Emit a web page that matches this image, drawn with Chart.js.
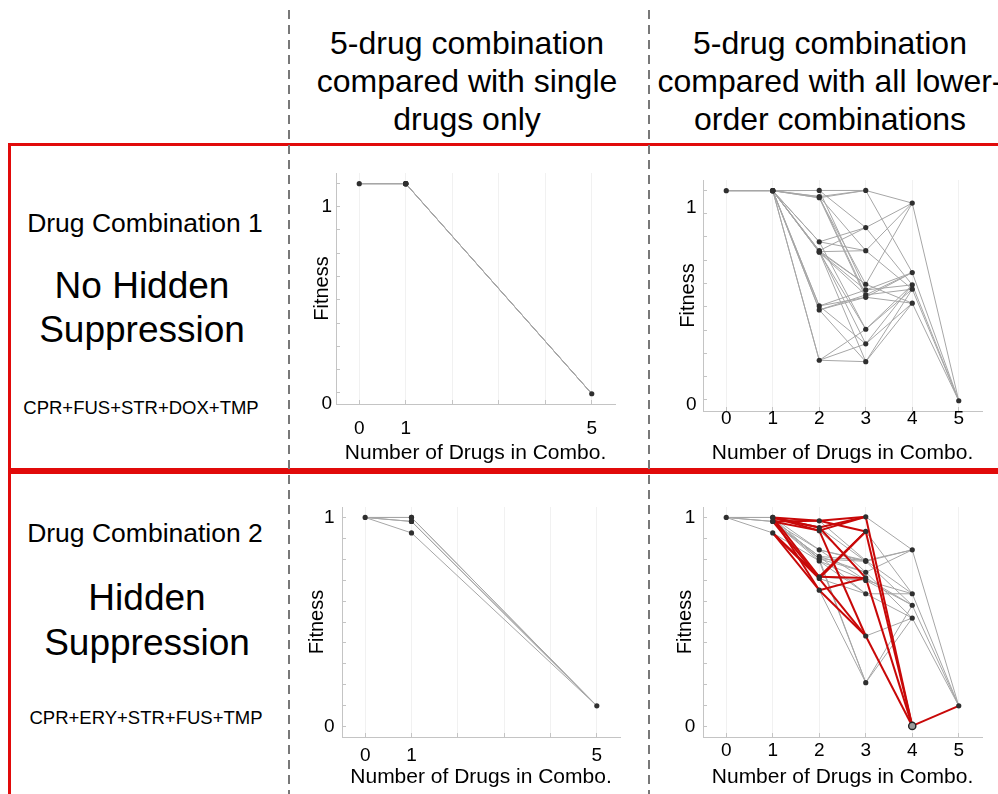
<!DOCTYPE html>
<html>
<head>
<meta charset="utf-8">
<script src="https://cdn.jsdelivr.net/npm/chart.js@4.4.0/dist/chart.umd.min.js"></script>
<style>
  html, body { margin: 0; padding: 0; background: #fff; }
  body { width: 998px; height: 794px; position: relative; overflow: hidden;
         font-family: "Liberation Sans", Arial, sans-serif; color: #000; }
  .box { position: absolute; border: 3px solid #e10a0a; box-sizing: border-box; }
  .dash { position: absolute; top: 10px; width: 2px; height: 784px;
          background: repeating-linear-gradient(to bottom, #787878 0 9px, transparent 9px 15px); }
  .t { position: absolute; transform: translate(-50%, -50%); text-align: center; white-space: nowrap; }
  canvas { position: absolute; }
</style>
</head>
<body>

<!-- red frames round each row -->
<div class="box" style="left:8px;top:143px;width:1010px;height:328px"></div>
<div class="box" style="left:8px;top:471px;width:1010px;height:400px"></div>

<!-- column headers -->
<div class="t" style="left:467px;top:81px;font-size:32px;line-height:38px">5-drug combination<br>compared with single<br>drugs only</div>
<div class="t" style="left:830px;top:81px;font-size:32px;line-height:38px">5-drug combination<br>compared with all lower-<br>order combinations</div>

<!-- row labels -->
<div class="t" style="left:145px;top:223px;font-size:26.5px">Drug Combination 1</div>
<div class="t" style="left:142px;top:308px;font-size:37px;line-height:44px">No Hidden<br>Suppression</div>
<div class="t" style="left:141px;top:408px;font-size:18.5px">CPR+FUS+STR+DOX+TMP</div>

<div class="t" style="left:145px;top:533px;font-size:26.5px">Drug Combination 2</div>
<div class="t" style="left:147px;top:620px;font-size:37px;line-height:45px">Hidden<br>Suppression</div>
<div class="t" style="left:146px;top:718px;font-size:18.5px">CPR+ERY+STR+FUS+TMP</div>

<canvas id="panel-1-singles" width="335" height="303" style="left:295px;top:165px"></canvas>
<canvas id="panel-1-all" width="335" height="296" style="left:662px;top:172px"></canvas>
<canvas id="panel-2-singles" width="335" height="299" style="left:300px;top:495px"></canvas>
<canvas id="panel-2-all" width="335" height="299" style="left:662px;top:495px"></canvas>

<div class="dash" style="left:288px"></div>
<div class="dash" style="left:648px"></div>

<script>
// --- Combination 1: CPR+FUS+STR+DOX+TMP (no hidden suppression) ---
const combo1Drugs = ['CPR', 'FUS', 'STR', 'DOX', 'TMP'];
const combo1NoDrugFit = 1.116;
const combo1SingleFit = [1.116, 1.116, 1.116, 1.116, 1.116];
const combo1Pairs = ['CPR+FUS', 'CPR+STR', 'FUS+STR', 'CPR+DOX', 'FUS+DOX', 'STR+DOX', 'CPR+TMP', 'FUS+TMP', 'STR+TMP', 'DOX+TMP'];
const combo1PairFit = [1.117, 1.086, 1.080, 0.857, 0.812, 0.807, 0.804, 0.532, 0.512, 0.257];
const combo1Triples = ['CPR+FUS+STR', 'CPR+FUS+DOX', 'CPR+STR+DOX', 'FUS+STR+DOX', 'CPR+FUS+TMP', 'CPR+STR+TMP', 'FUS+STR+TMP', 'CPR+DOX+TMP', 'FUS+DOX+TMP', 'STR+DOX+TMP'];
const combo1TripleFit = [1.117, 0.929, 0.812, 0.642, 0.613, 0.588, 0.576, 0.414, 0.340, 0.250];
const combo1Quads = ['CPR+FUS+STR+DOX', 'CPR+FUS+STR+TMP', 'CPR+FUS+DOX+TMP', 'CPR+STR+DOX+TMP', 'FUS+STR+DOX+TMP'];
const combo1QuadFit = [1.053, 0.701, 0.639, 0.617, 0.546];
const combo1FullFit = 0.052;

// --- Combination 2: CPR+ERY+STR+FUS+TMP (hidden suppression) ---
const combo2Drugs = ['CPR', 'ERY', 'STR', 'FUS', 'TMP'];
const combo2NoDrugFit = 1.0;
const combo2SingleFit = [1.0, 0.981, 0.926, 1.0, 0.981];
const combo2Pairs = ['CPR+ERY', 'CPR+FUS', 'ERY+FUS', 'CPR+STR', 'ERY+STR', 'STR+FUS', 'CPR+TMP', 'ERY+TMP', 'FUS+TMP', 'STR+TMP'];
const combo2PairFit = [0.984, 0.952, 0.937, 0.716, 0.708, 0.652, 0.845, 0.814, 0.802, 0.792];
const combo2Triples = ['CPR+ERY+FUS', 'CPR+ERY+STR', 'CPR+STR+FUS', 'ERY+STR+FUS', 'CPR+ERY+TMP', 'CPR+FUS+TMP', 'ERY+FUS+TMP', 'CPR+STR+TMP', 'ERY+STR+TMP', 'STR+FUS+TMP'];
const combo2TripleFit = [1.003, 0.933, 0.711, 0.433, 0.794, 0.790, 0.738, 0.699, 0.635, 0.210];
const combo2Quads = ['CPR+ERY+STR+FUS', 'CPR+ERY+FUS+TMP', 'CPR+ERY+STR+TMP', 'CPR+STR+FUS+TMP', 'ERY+STR+FUS+TMP'];
const combo2QuadFit = [0.003, 0.845, 0.635, 0.580, 0.519];
const combo2FullFit = 0.099;
const combo2Suppressed = 'CPR+ERY+STR+FUS';

// --- axes ---
const orderTicks = [0, 1, 2, 3, 4, 5];
const singlesOrderLabels = [0, 1, 5];
const fitTicksRow1 = [0, 0.056, 0.174, 0.292, 0.410, 0.528, 0.646, 0.764, 0.882, 1.0, 1.118];
const fitTicksRow2 = [0, 0.1, 0.2, 0.3, 0.4, 0.5, 0.6, 0.7, 0.8, 0.9, 1.0];
const fitLabels = [0, 1];

const FONT = "'Liberation Sans', Arial, sans-serif";
const GRAY_LINE = '#a6a6a6';
const RED_LINE = 'rgb(200,8,8)';
const NODE = '#2f2f2f';

function buildLevels(drugs, noDrug, singles, pairs, pairFit, triples, tripleFit, quads, quadFit, full) {
    return [
        { order: 0, names: [''], fit: [noDrug] },
        { order: 1, names: drugs, fit: singles },
        { order: 2, names: pairs, fit: pairFit },
        { order: 3, names: triples, fit: tripleFit },
        { order: 4, names: quads, fit: quadFit },
        { order: 5, names: [drugs.join('+')], fit: [full] }
    ];
}

function isSubset(small, big) {
    const bigSet = big.split('+');
    return small.split('+').filter(Boolean).every(d => bigSet.includes(d));
}

/**
 * Draws one fitness-landscape panel: each combination is a node, joined to the
 * combinations one drug larger that contain it.
 */
function renderPanel(canvasId, levels, suppressed, lay) {
    const grayEdges = [];
    const redEdges = [];
    for (let k = 0; k < levels.length - 1; k++) {
        const a = levels[k], b = levels[k + 1];
        a.names.forEach((na, i) => {
            b.names.forEach((nb, j) => {
                if (!isSubset(na, nb)) return;
                const seg = [{ x: a.order, y: a.fit[i] }, { x: b.order, y: b.fit[j] }];
                const red = suppressed && ((a.order >= 1 && isSubset(nb, suppressed)) || na === suppressed);
                (red ? redEdges : grayEdges).push(seg);
            });
        });
    }

    const nodes = [];
    const ringed = [];
    levels.forEach(l => l.names.forEach((n, i) => {
        const p = { x: l.order, y: l.fit[i] };
        if (suppressed && n === suppressed) ringed.push(p); else nodes.push(p);
    }));

    const datasets = [
        { data: ringed, pointRadius: 3.6, backgroundColor: '#9a9a9a', borderColor: '#222', borderWidth: 1.4, order: 0 },
        { data: nodes, pointRadius: 2.6, backgroundColor: NODE, borderWidth: 0, order: 1 }
    ];
    redEdges.forEach(seg => datasets.push({ data: seg, showLine: true, pointRadius: 0, borderColor: RED_LINE, borderWidth: 2, order: 2 }));
    grayEdges.forEach(seg => datasets.push({ data: seg, showLine: true, pointRadius: 0, borderColor: GRAY_LINE, borderWidth: 1, order: 3 }));

    new Chart(document.getElementById(canvasId), {
        type: 'scatter',
        data: { datasets: datasets },
        options: {
            responsive: false,
            animation: false,
            layout: { padding: { top: lay.padTop, right: 15, left: 0, bottom: 0 } },
            plugins: { legend: { display: false }, tooltip: { enabled: false } },
            scales: {
                x: {
                    type: 'linear', min: -0.5, max: 5.5,
                    afterBuildTicks: s => { s.ticks = orderTicks.map(v => ({ value: v })); },
                    afterFit: s => { s.height = lay.xAxisHeight; s.paddingLeft = 0; s.paddingRight = 0; },
                    border: { color: '#c4c4c4', width: 1 },
                    grid: { color: '#f1f1f1', tickColor: '#c4c4c4', tickLength: -4 },
                    ticks: {
                        autoSkip: false, maxRotation: 0, padding: lay.xTickPad, color: '#000',
                        font: { family: FONT, size: 19 },
                        callback: v => lay.xLabels.includes(v) ? String(v) : ''
                    },
                    title: { display: true, text: 'Number of Drugs in Combo.', color: '#000',
                             font: { family: FONT, size: 21 }, padding: { top: 0, bottom: lay.xTitlePad } }
                },
                y: {
                    type: 'linear', min: lay.yMin, max: lay.yMax,
                    afterBuildTicks: s => { s.ticks = lay.yTicks.map(v => ({ value: v })); },
                    afterFit: s => { s.width = lay.yAxisWidth; s.paddingTop = 0; s.paddingBottom = 0; },
                    border: { color: '#c4c4c4', width: 1 },
                    grid: { drawOnChartArea: false, tickColor: '#c4c4c4', tickLength: -4 },
                    ticks: {
                        autoSkip: false, padding: lay.yTickPad, labelOffset: lay.yLabelOffset, color: '#000',
                        font: { family: FONT, size: 19 },
                        callback: v => fitLabels.includes(v) ? String(v) : ''
                    },
                    title: { display: true, text: 'Fitness', color: '#000',
                             font: { family: FONT, size: 20 }, padding: { top: lay.yTitlePad, bottom: 0 } }
                }
            }
        }
    });
}

const levels1 = buildLevels(combo1Drugs, combo1NoDrugFit, combo1SingleFit, combo1Pairs, combo1PairFit,
    combo1Triples, combo1TripleFit, combo1Quads, combo1QuadFit, combo1FullFit);
const levels2 = buildLevels(combo2Drugs, combo2NoDrugFit, combo2SingleFit, combo2Pairs, combo2PairFit,
    combo2Triples, combo2TripleFit, combo2Quads, combo2QuadFit, combo2FullFit);
const singlesOnly = l => l.filter(v => singlesOrderLabels.includes(v.order));

renderPanel('panel-1-singles', singlesOnly(levels1), null, {
    padTop: 8, xAxisHeight: 64, yAxisWidth: 41, xTickPad: 17, yTickPad: 8, yLabelOffset: 0,
    yTitlePad: 15, xTitlePad: 2.4, yMin: 0, yMax: 1.17, yTicks: fitTicksRow1, xLabels: singlesOrderLabels
});
renderPanel('panel-1-all', levels1, null, {
    padTop: 8, xAxisHeight: 57, yAxisWidth: 41, xTickPad: 0, yTickPad: 10.5, yLabelOffset: -6,
    yTitlePad: 14.3, xTitlePad: 2.4, yMin: 0, yMax: 1.17, yTicks: fitTicksRow1, xLabels: orderTicks
});
renderPanel('panel-2-singles', singlesOnly(levels2), null, {
    padTop: 12, xAxisHeight: 57, yAxisWidth: 42, xTickPad: 11, yTickPad: 11.5, yLabelOffset: 0,
    yTitlePad: 5.8, xTitlePad: 4.4, yMin: -0.05, yMax: 1.05, yTicks: fitTicksRow2, xLabels: singlesOrderLabels
});
renderPanel('panel-2-all', levels2, combo2Suppressed, {
    padTop: 12, xAxisHeight: 57, yAxisWidth: 41, xTickPad: 6.6, yTickPad: 11.7, yLabelOffset: 0,
    yTitlePad: 11.8, xTitlePad: 4.4, yMin: -0.05, yMax: 1.05, yTicks: fitTicksRow2, xLabels: orderTicks
});
</script>
</body>
</html>
